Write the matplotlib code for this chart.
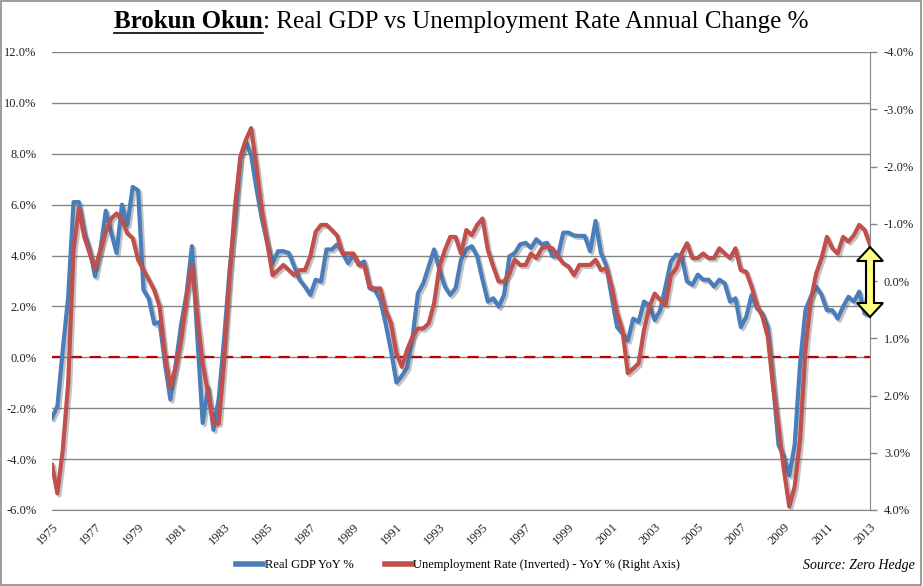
import numpy as np
import matplotlib.pyplot as plt
import matplotlib.patheffects as pe
from matplotlib.lines import Line2D
from matplotlib.patches import Polygon, Rectangle

plt.rcParams['font.family'] = ['Liberation Serif', 'DejaVu Serif']

# quarterly, 1975Q1 .. 2013Q1
gdp = [-2.38, -1.92, 0.30, 2.35, 6.10, 6.10, 4.90, 4.24,
       3.18, 4.24, 5.76, 4.90, 4.10, 6.00, 5.20, 6.70,
       6.56, 2.65, 2.30, 1.32, 1.39, -0.26, -1.66, -0.26,
       1.30, 2.50, 4.37, 0.80, -2.58, -1.19, -2.85, -1.59,
       0.79, 3.44, 5.43, 7.81, 8.48, 7.95, 6.62, 5.43,
       4.50, 3.70, 4.17, 4.17, 4.10, 3.58, 3.05, 2.78,
       2.45, 3.05, 2.98, 4.24, 4.24, 4.44, 4.10, 3.70,
       4.04, 3.64, 3.77, 2.72, 2.65, 2.25, 1.32, 0.26,
       -0.99, -0.73, -0.40, 0.79, 2.52, 2.91, 3.58, 4.24,
       3.44, 2.78, 2.45, 2.72, 3.84, 4.24, 4.37, 3.97,
       3.05, 2.19, 2.32, 1.99, 2.45, 3.97, 4.10, 4.44,
       4.50, 4.30, 4.64, 4.44, 4.50, 3.97, 3.97, 4.90,
       4.90, 4.79, 4.77, 4.77, 4.17, 5.36, 4.10, 3.60,
       2.38, 1.19, 0.93, 0.66, 1.52, 1.39, 2.19, 2.05,
       1.46, 1.85, 2.78, 3.77, 4.04, 3.97, 2.98, 2.85,
       3.25, 3.05, 3.05, 2.78, 3.05, 2.91, 2.19, 2.32,
       1.19, 1.59, 2.45, 1.92, 1.72, 1.19, -1.06, -3.44,
       -3.91, -4.64, -3.44, -0.26, 1.85, 2.38, 2.78, 2.45,
       1.85, 1.85, 1.52, 1.99, 2.38, 2.19, 2.58, 1.72,
       1.66]

unemp = [3.21, 3.71, 2.95, 1.79, -0.54, -1.27, -0.77, -0.48,
         -0.22, -0.54, -0.86, -1.09, -1.18, -1.07, -0.83, -0.75,
         -0.37, -0.19, -0.02, 0.16, 0.45, 1.32, 1.85, 1.50,
         1.03, 0.27, -0.28, 0.62, 1.44, 1.96, 2.49, 2.49,
         1.32, -0.08, -1.30, -2.17, -2.46, -2.67, -2.00, -1.24,
         -0.66, -0.10, -0.19, -0.28, -0.19, -0.10, -0.19, -0.19,
         -0.43, -0.86, -0.98, -0.98, -0.89, -0.79, -0.48, -0.48,
         -0.48, -0.28, -0.28, 0.10, 0.13, 0.13, 0.51, 0.74,
         1.26, 1.50, 1.20, 0.97, 0.83, 0.83, 0.74, 0.39,
         -0.25, -0.54, -0.77, -0.77, -0.48, -0.89, -0.80, -0.98,
         -1.09, -0.54, -0.25, 0.01, 0.01, -0.13, -0.37, -0.28,
         -0.28, -0.48, -0.40, -0.57, -0.60, -0.57, -0.43, -0.31,
         -0.25, -0.10, -0.28, -0.28, -0.28, -0.37, -0.19, -0.22,
         0.10, 0.56, 0.86, 1.61, 1.53, 1.44, 0.86, 0.45,
         0.22, 0.33, 0.42, -0.10, -0.22, -0.48, -0.66, -0.40,
         -0.40, -0.48, -0.40, -0.40, -0.57, -0.48, -0.40, -0.57,
         -0.19, -0.16, 0.10, 0.42, 0.62, 0.97, 1.85, 2.54,
         3.30, 3.94, 3.59, 2.78, 1.20, 0.33, -0.13, -0.40,
         -0.77, -0.57, -0.48, -0.77, -0.69, -0.80, -0.98, -0.89,
         -0.63]

year_labels = list(range(1975, 2014, 2))
t = 1975 + np.arange(len(gdp)) / 4.0

blue = '#4A7EBB'
red = '#C0504D'
grid_c = '#868686'

fig = plt.figure(figsize=(9.23, 5.86), dpi=100)
ax = fig.add_axes([52 / 923, 1 - 510 / 586, 818 / 923, 458 / 586])
ax2 = ax.twinx()

shadow = [pe.SimpleLineShadow(offset=(1.5, -1.5), shadow_color='#555555', alpha=0.35),
          pe.Normal()]

ax.plot(t, gdp, color=blue, lw=3.0, solid_joinstyle='round', path_effects=shadow, zorder=3)
ax.axhline(0, color='#C00000', lw=1.6, ls=(0, (5, 3.5)), zorder=2)
ax2.plot(t, unemp, color=red, lw=3.0, solid_joinstyle='round', path_effects=shadow, zorder=3)

ax.set_xlim(1975, 2013)
ax.set_ylim(-6, 12)
ax2.set_ylim(4, -4)

ax.set_yticks(np.arange(-6, 13, 2))
ax.set_yticklabels(['%.1f%%' % v for v in np.arange(-6, 13, 2)])
ax2.set_yticks(np.arange(-4, 5, 1))
ax2.set_yticklabels(['%.1f%%' % v for v in np.arange(-4, 5, 1)])
ax.set_xticks(year_labels)
ax.set_xticklabels([str(y) for y in year_labels], rotation=45, ha='right',
                   va='top', rotation_mode='anchor')

ax.grid(axis='y', color=grid_c, lw=1)
ax.set_axisbelow(True)
for a in (ax, ax2):
    for s in ('top', 'left'):
        a.spines[s].set_visible(False)
    a.spines['bottom'].set_color(grid_c)
    a.spines['right'].set_color(grid_c)
ax2.spines['bottom'].set_visible(False)
ax.spines['right'].set_visible(False)

ax.tick_params(axis='y', length=0, pad=11, labelsize=9, colors='#222222')
ax.tick_params(axis='x', length=0, pad=8, labelsize=9, colors='#222222')
ax2.tick_params(axis='y', length=5, width=1, color=grid_c, pad=5, labelsize=9,
                labelcolor='#222222')

# title: underlined "Brokun Okun" + rest
fig.canvas.draw()
renderer = fig.canvas.get_renderer()
t1 = fig.text(0, 1 - 22 / 586, 'Brokun Okun', fontsize=18, fontweight='bold',
              va='center', ha='left')
t2 = fig.text(0, 1 - 22 / 586, ': Real GDP vs Unemployment Rate Annual Change %',
              fontsize=18, va='center', ha='left')
w1 = t1.get_window_extent(renderer).width
w2 = t2.get_window_extent(renderer).width
x0 = (923 - (w1 + w2)) / 2
t1.set_x(x0 / 923)
t2.set_x((x0 + w1) / 923)
fig.add_artist(Line2D([x0 / 923, (x0 + w1) / 923], [1 - 33 / 586, 1 - 33 / 586],
                      color='black', lw=1.2, transform=fig.transFigure))

# legend
handles = [Line2D([], [], color=blue, lw=4), Line2D([], [], color=red, lw=4)]
fig.legend(handles, ['Real GDP YoY %', 'Unemployment Rate (Inverted) - YoY % (Right Axis)'],
           loc='center', bbox_to_anchor=(458 / 923, 1 - 565 / 586), ncol=2,
           frameon=False, fontsize=9, handlelength=2.2, handletextpad=0.1,
           columnspacing=2.5)
fig.text(915 / 923, 1 - 565 / 586, 'Source: Zero Hedge', fontsize=10,
         style='italic', ha='right', va='center')

# yellow double arrow at the right edge
cx, ya, yb = 870, 247, 317
pts = [(cx, ya), (cx + 13, ya + 14), (cx + 4, ya + 14), (cx + 4, yb - 14),
       (cx + 13, yb - 14), (cx, yb), (cx - 13, yb - 14), (cx - 4, yb - 14),
       (cx - 4, ya + 14), (cx - 13, ya + 14)]
pts = [(x / 923, 1 - y / 586) for x, y in pts]
fig.add_artist(Polygon(pts, closed=True, facecolor='#FFFF80', edgecolor='black',
                       lw=1.5, transform=fig.transFigure, zorder=10))

# outer frame
fig.add_artist(Rectangle((0.001, 0.002), 0.997, 0.996, fill=False,
                         edgecolor='#8c8c8c', lw=1.2, transform=fig.transFigure))

fig.savefig('out.png', dpi=100)
